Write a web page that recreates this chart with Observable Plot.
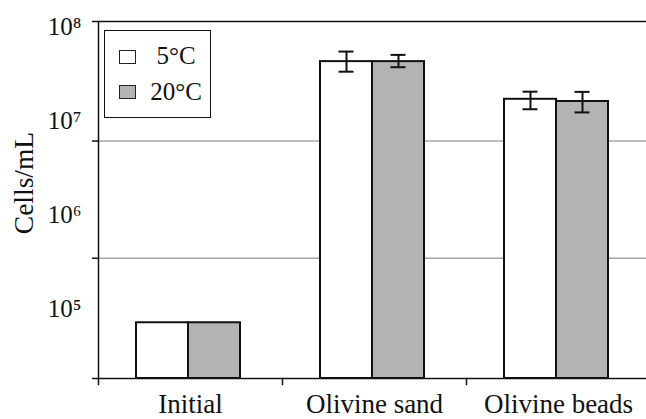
<!DOCTYPE html>
<html><head><meta charset="utf-8">
<script src="https://cdn.jsdelivr.net/npm/d3@7"></script>
<script src="https://cdn.jsdelivr.net/npm/@observablehq/plot@0.6"></script>
<style>
html,body{margin:0;padding:0;background:#fff;overflow:hidden;}
#wrap{position:relative;width:646px;height:419px;overflow:hidden;}
#wrap svg{max-width:none !important;}
#legend{position:absolute;left:104px;top:30px;width:107px;height:88px;box-sizing:border-box;border:1.5px solid #111;font-family:"Liberation Serif",serif;font-size:25px;color:#111;background:#fff;}
.sw{position:absolute;left:14px;width:17px;height:14px;box-sizing:border-box;border:1.5px solid #222;}
.lab{position:absolute;left:36px;width:70px;text-align:center;line-height:25px;white-space:nowrap;}
</style></head>
<body><div id="wrap"></div>
<script>
const categories = ["Initial", "Olivine sand", "Olivine beads"];
const series = ["5°C", "20°C"];
const colors = ["#ffffff", "#b3b3b3"];
const cells5 = [7.2e4, 4.3e7, 1.71e7];
const cells20 = [7.2e4, 4.3e7, 1.62e7];
const low5 = [null, 3.36e7, 1.34e7];
const high5 = [null, 5.5e7, 2.06e7];
const low20 = [null, 3.75e7, 1.24e7];
const high20 = [null, 5.07e7, 2.05e7];
const yLabelTicks = [1e5, 1e6, 1e7, 1e8];
const yGridTicks = [3.49e5, 6.15e6];
const yDomain = [1.84e4, 1.148e8];
const yTitle = "Cells/mL";

const rows = [];
categories.forEach((c, i) => {
  rows.push({category: c, series: series[0], value: cells5[i], lo: low5[i], hi: high5[i]});
  rows.push({category: c, series: series[1], value: cells20[i], lo: low20[i], hi: high20[i]});
});
const errRows = rows.filter(d => d.lo != null);
const sup = s => String(s).replace(/\d/g, d => "⁰¹²³⁴⁵⁶⁷⁸⁹"[d]);
const ink = "#111";

const plot = Plot.plot({
  width: 650, height: 419,
  marginLeft: 97, marginRight: 0, marginTop: 21, marginBottom: 41,
  style: {fontFamily: "'Liberation Serif', serif", fontSize: "25px", color: ink, background: "white", maxWidth: "none"},
  fx: {domain: categories, padding: 0, label: null},
  x: {domain: series, paddingInner: 0, paddingOuter: 0.739, align: 0.48, axis: null},
  y: {type: "log", domain: yDomain},
  color: {domain: series, range: colors},
  marks: [
    Plot.ruleY(yGridTicks, {stroke: "#a6a6a6", strokeWidth: 1.5}),
    Plot.barY(rows, {fx: "category", x: "series", y1: yDomain[0], y2: "value", fill: "series", stroke: ink, strokeWidth: 2}),
    Plot.ruleX(errRows, {fx: "category", x: "series", y1: "lo", y2: "hi", stroke: ink, strokeWidth: 2}),
    Plot.tickY(errRows, {fx: "category", x: "series", y: "lo", stroke: ink, strokeWidth: 2, insetLeft: 18.5, insetRight: 18.5}),
    Plot.tickY(errRows, {fx: "category", x: "series", y: "hi", stroke: ink, strokeWidth: 2, insetLeft: 18.5, insetRight: 18.5}),
    Plot.frame({facet: "super", stroke: ink, strokeWidth: 1.5}),
    Plot.frame({anchor: "left", insetTop: 357, insetBottom: -6, stroke: ink, strokeWidth: 1.5}),
    Plot.axisY({ticks: [yDomain[0], ...yGridTicks, yDomain[1]], tickSize: 6, tickFormat: () => "", label: null, stroke: ink, strokeWidth: 1.5}),
    Plot.axisY({ticks: yLabelTicks, tickSize: 0, tickPadding: 17, tickFormat: d => "10" + sup(Math.round(Math.log10(d))), label: null}),
    Plot.text([yTitle], {facet: "super", frameAnchor: "left", rotate: -90, textAnchor: "middle", lineAnchor: "middle", dx: -74, dy: -17, fontSize: 27.5, fill: ink}),
    Plot.axisFx({anchor: "bottom", tickSize: 0, tickPadding: 15, label: null, fontSize: 27})
  ]
});
plot.style.maxWidth = "none";
const wrap = document.getElementById("wrap");
wrap.appendChild(plot);

const legend = document.createElement("div");
legend.id = "legend";
series.forEach((s, i) => {
  const sw = document.createElement("div");
  sw.className = "sw";
  sw.style.top = (19 + i * 35) + "px";
  sw.style.background = colors[i];
  const lab = document.createElement("div");
  lab.className = "lab";
  lab.style.top = (12 + i * 36) + "px";
  lab.textContent = s;
  legend.appendChild(sw);
  legend.appendChild(lab);
});
wrap.appendChild(legend);
</script>
</body></html>
